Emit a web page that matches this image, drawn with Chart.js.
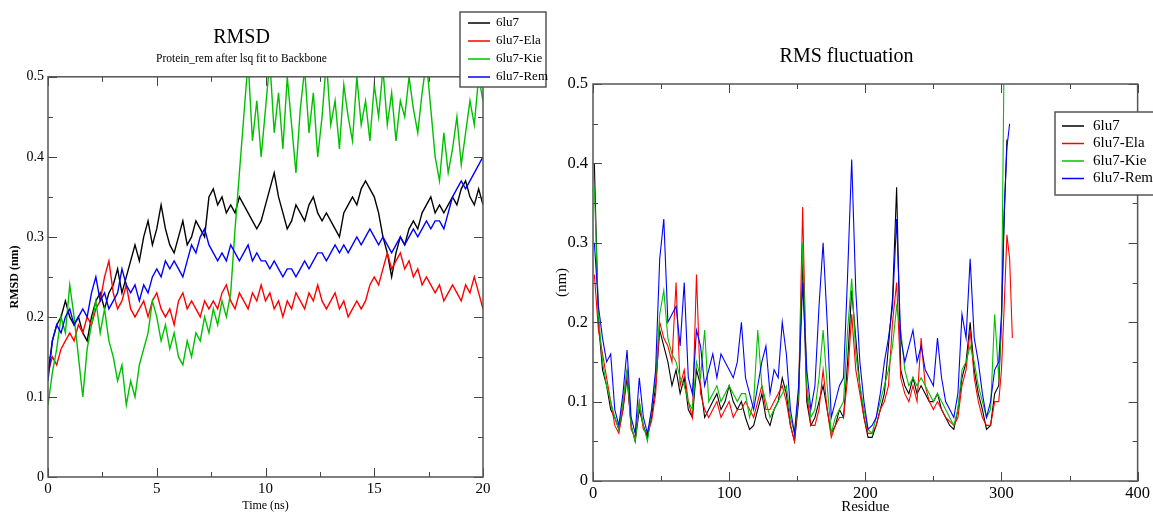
<!DOCTYPE html>
<html>
<head>
<meta charset="utf-8">
<script src="https://cdn.jsdelivr.net/npm/chart.js@4.4.1/dist/chart.umd.min.js"></script>
<style>
  html, body { margin: 0; padding: 0; background: #fff; }
  #wrap { position: relative; width: 1153px; height: 515px; overflow: hidden; }
  #rmsd { position: absolute; left: 0; top: 0; }
  #rmsf { position: absolute; left: 555px; top: 0; }
</style>
</head>
<body>
<div id="wrap">
  <canvas id="rmsd" width="555" height="515"></canvas>
  <canvas id="rmsf" width="598" height="515"></canvas>
</div>
<script>
//--------------------------------------------------DATA--------------------------------------------------
const seriesNames = ["6lu7", "6lu7-Ela", "6lu7-Kie", "6lu7-Rem"];
const seriesColors = ["#000000", "#ff0000", "#00c000", "#0000ff"];

// RMSD (nm), one value every 0.2 ns from 0 to 20 ns
const rmsdBlack = [
  0.13,0.17,0.19,0.20,0.22,0.20,0.19,0.20,0.18,0.17,
  0.20,0.22,0.23,0.21,0.23,0.24,0.26,0.23,0.25,0.27,
  0.29,0.27,0.30,0.32,0.29,0.31,0.34,0.31,0.29,0.28,
  0.30,0.32,0.29,0.30,0.32,0.31,0.30,0.35,0.36,0.34,
  0.35,0.33,0.34,0.33,0.35,0.34,0.33,0.32,0.31,0.32,
  0.34,0.36,0.38,0.35,0.33,0.31,0.32,0.34,0.33,0.32,
  0.34,0.35,0.33,0.32,0.33,0.32,0.31,0.30,0.33,0.34,
  0.35,0.34,0.36,0.37,0.36,0.35,0.33,0.30,0.28,0.25,
  0.28,0.30,0.29,0.31,0.32,0.31,0.33,0.34,0.35,0.33,
  0.34,0.33,0.34,0.35,0.34,0.36,0.37,0.35,0.34,0.36,
  0.34];
const rmsdEla = [
  0.13,0.15,0.14,0.16,0.17,0.18,0.17,0.19,0.18,0.20,
  0.19,0.21,0.22,0.25,0.27,0.23,0.21,0.22,0.24,0.21,
  0.20,0.21,0.22,0.20,0.22,0.23,0.21,0.20,0.21,0.19,
  0.22,0.23,0.21,0.22,0.21,0.20,0.22,0.21,0.22,0.21,
  0.23,0.24,0.22,0.21,0.23,0.22,0.21,0.23,0.22,0.24,
  0.22,0.23,0.21,0.22,0.20,0.22,0.21,0.23,0.22,0.21,
  0.23,0.22,0.24,0.22,0.21,0.22,0.23,0.21,0.22,0.20,
  0.21,0.22,0.21,0.22,0.24,0.25,0.24,0.26,0.28,0.26,
  0.27,0.28,0.26,0.27,0.25,0.26,0.24,0.25,0.24,0.23,
  0.24,0.22,0.23,0.24,0.23,0.22,0.24,0.23,0.25,0.23,
  0.21];
const rmsdKie = [
  0.09,0.13,0.16,0.20,0.18,0.24,0.20,0.15,0.10,0.16,
  0.19,0.22,0.18,0.21,0.17,0.15,0.12,0.14,0.09,0.12,
  0.10,0.14,0.16,0.18,0.22,0.20,0.17,0.19,0.16,0.18,
  0.15,0.14,0.17,0.15,0.18,0.17,0.20,0.18,0.21,0.19,
  0.22,0.20,0.23,0.31,0.38,0.45,0.52,0.42,0.47,0.40,
  0.46,0.52,0.43,0.48,0.41,0.50,0.44,0.38,0.46,0.51,
  0.43,0.48,0.40,0.45,0.52,0.44,0.47,0.41,0.49,0.45,
  0.42,0.50,0.44,0.47,0.42,0.49,0.45,0.51,0.44,0.48,
  0.42,0.47,0.45,0.50,0.46,0.43,0.48,0.52,0.46,0.40,
  0.37,0.43,0.38,0.41,0.45,0.39,0.43,0.47,0.44,0.50,
  0.47];
const rmsdRem = [
  0.12,0.17,0.19,0.18,0.20,0.21,0.19,0.20,0.21,0.20,
  0.23,0.25,0.22,0.23,0.21,0.22,0.23,0.26,0.24,0.23,
  0.24,0.22,0.24,0.23,0.25,0.26,0.25,0.27,0.26,0.27,
  0.26,0.25,0.27,0.29,0.28,0.30,0.31,0.29,0.28,0.27,
  0.28,0.27,0.29,0.28,0.27,0.28,0.29,0.27,0.28,0.27,
  0.27,0.26,0.27,0.26,0.25,0.26,0.26,0.25,0.26,0.27,
  0.26,0.27,0.28,0.28,0.27,0.28,0.29,0.28,0.29,0.28,
  0.29,0.30,0.29,0.30,0.31,0.30,0.29,0.30,0.29,0.28,
  0.29,0.30,0.29,0.30,0.31,0.30,0.31,0.32,0.31,0.32,
  0.32,0.31,0.33,0.35,0.36,0.37,0.36,0.37,0.38,0.39,
  0.40];
// sampling grid of the trajectory (ns)
const rmsdTimes = rmsdBlack.map((_, i) => +(i * 0.2).toFixed(1));

// RMS fluctuation (nm) per residue
const residues = [
  1,4,7,10,13,16,19,22,25,28,
  31,34,37,40,43,46,49,52,55,58,
  61,64,67,70,73,76,79,82,85,88,
  91,94,97,100,103,106,109,112,115,118,
  121,124,127,130,133,136,139,142,145,148,
  151,154,157,160,163,166,169,172,175,178,
  181,184,187,190,193,196,199,202,205,208,
  211,214,217,220,223,226,229,232,235,238,
  241,244,247,250,253,256,259,262,265,268,
  271,274,277,280,283,286,289,292,295,298,
  300,302,304,306,308];
const rmsfBlack = [
  0.40,0.20,0.14,0.12,0.09,0.08,0.065,0.09,0.13,0.07,
  0.05,0.09,0.07,0.055,0.08,0.12,0.19,0.17,0.15,0.12,
  0.14,0.11,0.13,0.09,0.08,0.14,0.12,0.08,0.09,0.10,
  0.11,0.09,0.10,0.12,0.10,0.09,0.10,0.08,0.065,0.07,
  0.09,0.11,0.08,0.07,0.09,0.10,0.13,0.11,0.07,0.05,
  0.10,0.28,0.10,0.07,0.08,0.10,0.12,0.09,0.06,0.07,
  0.09,0.08,0.15,0.24,0.18,0.12,0.08,0.055,0.055,0.07,
  0.09,0.11,0.17,0.23,0.37,0.14,0.12,0.11,0.13,0.11,
  0.12,0.11,0.10,0.10,0.11,0.09,0.08,0.07,0.065,0.09,
  0.13,0.15,0.20,0.14,0.11,0.09,0.065,0.07,0.11,0.12,
  0.20,0.33,0.43,null,null];
const rmsfEla = [
  0.26,0.19,0.16,0.13,0.10,0.07,0.06,0.09,0.14,0.065,
  0.055,0.10,0.065,0.06,0.075,0.11,0.20,0.18,0.17,0.15,
  0.25,0.12,0.14,0.10,0.08,0.26,0.11,0.09,0.08,0.09,
  0.10,0.08,0.09,0.10,0.08,0.09,0.09,0.10,0.09,0.08,
  0.10,0.12,0.09,0.09,0.10,0.11,0.12,0.10,0.07,0.05,
  0.11,0.345,0.11,0.07,0.07,0.09,0.14,0.09,0.055,0.07,
  0.08,0.08,0.13,0.21,0.14,0.11,0.08,0.06,0.06,0.07,
  0.09,0.10,0.12,0.20,0.25,0.13,0.11,0.10,0.12,0.10,
  0.18,0.12,0.10,0.09,0.10,0.09,0.08,0.075,0.07,0.08,
  0.12,0.14,0.19,0.13,0.10,0.08,0.07,0.07,0.10,0.10,
  0.14,0.22,0.31,0.28,0.18];
const rmsfKie = [
  0.37,0.21,0.15,0.12,0.10,0.08,0.065,0.10,0.14,0.07,
  0.05,0.10,0.07,0.05,0.09,0.13,0.21,0.24,0.18,0.16,
  0.15,0.13,0.12,0.10,0.09,0.15,0.13,0.19,0.10,0.11,
  0.12,0.10,0.11,0.12,0.11,0.10,0.11,0.11,0.08,0.10,
  0.19,0.12,0.10,0.08,0.09,0.10,0.11,0.12,0.08,0.06,
  0.11,0.30,0.12,0.08,0.09,0.13,0.19,0.12,0.06,0.08,
  0.09,0.10,0.19,0.255,0.16,0.12,0.09,0.065,0.06,0.08,
  0.10,0.12,0.14,0.17,0.22,0.19,0.14,0.12,0.13,0.12,
  0.13,0.12,0.11,0.10,0.11,0.10,0.09,0.08,0.07,0.09,
  0.14,0.15,0.17,0.15,0.12,0.10,0.08,0.09,0.21,0.13,
  0.20,0.55,null,null,null];
const rmsfRem = [
  0.30,0.22,0.18,0.15,0.16,0.09,0.07,0.11,0.165,0.08,
  0.06,0.13,0.08,0.06,0.09,0.14,0.28,0.33,0.20,0.21,
  0.22,0.17,0.25,0.13,0.11,0.19,0.17,0.12,0.14,0.16,
  0.13,0.16,0.15,0.14,0.13,0.15,0.20,0.13,0.11,0.09,
  0.12,0.15,0.17,0.11,0.14,0.13,0.20,0.16,0.09,0.06,
  0.12,0.25,0.14,0.09,0.12,0.22,0.30,0.20,0.08,0.10,
  0.12,0.13,0.26,0.405,0.24,0.15,0.10,0.065,0.07,0.08,
  0.11,0.15,0.18,0.22,0.33,0.18,0.15,0.17,0.19,0.15,
  0.17,0.14,0.13,0.12,0.18,0.13,0.10,0.09,0.08,0.11,
  0.21,0.18,0.28,0.18,0.15,0.11,0.08,0.10,0.14,0.15,
  0.21,0.34,0.42,0.45,null];

//--------------------------------------------------PLUGINS--------------------------------------------------
const SERIF = "'Liberation Serif', 'DejaVu Serif', serif";

// Grace-style frame with inward major/minor ticks on all four sides
const frameTicks = {
  id: 'frameTicks',
  afterDatasetsDraw(chart, args, opts) {
    const { ctx, chartArea: a, scales: { x, y } } = chart;
    ctx.save();
    ctx.strokeStyle = '#444';
    ctx.lineWidth = 1;
    ctx.beginPath();
    for (let k = 0; k <= Math.round((x.max - x.min) / (opts.xStep / 2)); k++) {
      const v = x.min + k * opts.xStep / 2;
      const px = Math.round(x.getPixelForValue(v)) + 0.5;
      const len = k % 2 === 0 ? 9 : 5;
      ctx.moveTo(px, a.bottom); ctx.lineTo(px, a.bottom - len);
      ctx.moveTo(px, a.top); ctx.lineTo(px, a.top + len);
    }
    for (let k = 0; k <= Math.round((y.max - y.min) / (opts.yStep / 2)); k++) {
      const v = y.min + k * opts.yStep / 2;
      const py = Math.round(y.getPixelForValue(v)) + 0.5;
      const len = k % 2 === 0 ? 9 : 5;
      ctx.moveTo(a.left, py); ctx.lineTo(a.left + len, py);
      ctx.moveTo(a.right, py); ctx.lineTo(a.right - len, py);
    }
    ctx.stroke();
    ctx.lineWidth = 1.5;
    ctx.strokeStyle = '#555';
    ctx.strokeRect(a.left, a.top, a.right - a.left, a.bottom - a.top);
    ctx.restore();
  }
};

// Boxed legend like the Grace one
const boxLegend = {
  id: 'boxLegend',
  afterDraw(chart, args, o) {
    const { ctx } = chart;
    ctx.save();
    ctx.fillStyle = '#fff';
    ctx.fillRect(o.x, o.y, o.w, o.h);
    ctx.strokeStyle = '#555';
    ctx.lineWidth = 1.5;
    ctx.strokeRect(o.x, o.y, o.w, o.h);
    ctx.font = o.size + 'px ' + SERIF;
    ctx.textBaseline = 'middle';
    seriesNames.forEach((name, i) => {
      const yy = o.y + o.first + i * o.gap;
      ctx.strokeStyle = seriesColors[i];
      ctx.lineWidth = 1.5;
      ctx.beginPath();
      ctx.moveTo(o.x + o.lineFrom, yy);
      ctx.lineTo(o.x + o.lineTo, yy);
      ctx.stroke();
      ctx.fillStyle = '#000';
      ctx.fillText(name, o.x + o.textX, yy);
    });
    ctx.restore();
  }
};

function makeSets(xs, lists, width) {
  return lists.map((vals, i) => ({
    label: seriesNames[i],
    data: xs.map((v, j) => ({ x: v, y: vals[j] })),
    borderColor: seriesColors[i],
    borderWidth: width,
    pointRadius: 0,
    tension: 0,
    spanGaps: false,
    order: 4 - i
  }));
}

const noGrid = { display: false, drawTicks: false };

//--------------------------------------------------RMSD--------------------------------------------------
new Chart("rmsd", {
  type: "line",
  data: { datasets: makeSets(rmsdTimes, [rmsdBlack, rmsdEla, rmsdKie, rmsdRem], 1.4) },
  options: {
    responsive: false,
    animation: false,
    events: [],
    layout: { padding: { left: 0, right: 72, top: 26, bottom: 0 } },
    scales: {
      x: {
        type: "linear", min: 0, max: 20,
        afterFit(s) { s.height = 38; },
        grid: noGrid,
        border: { display: false },
        ticks: { stepSize: 5, padding: 3, color: "#000", font: { family: SERIF, size: 15 } },
        title: { display: true, text: "Time (ns)", color: "#000", padding: 2, font: { family: SERIF, size: 12 } }
      },
      y: {
        min: 0, max: 0.5,
        afterFit(s) { s.width = 48; },
        grid: noGrid,
        border: { display: false },
        ticks: { stepSize: 0.1, padding: 4, color: "#000", font: { family: SERIF, size: 14 } },
        title: { display: true, text: "RMSD (nm)", color: "#000", padding: 8, font: { family: SERIF, size: 12, weight: "bold" } }
      }
    },
    plugins: {
      legend: { display: false },
      tooltip: { enabled: false },
      title: { display: true, text: "RMSD", color: "#000", padding: { top: 0, bottom: 0 }, font: { family: SERIF, size: 20, weight: "normal" } },
      subtitle: { display: true, text: "Protein_rem after lsq fit to Backbone", color: "#000", padding: { top: 2, bottom: 11 }, font: { family: SERIF, size: 11.5 } },
      frameTicks: { xStep: 5, yStep: 0.1 },
      boxLegend: { x: 460, y: 12, w: 86, h: 75, first: 11, gap: 18, lineFrom: 8, lineTo: 30, textX: 36, size: 13 }
    }
  },
  plugins: [frameTicks, boxLegend]
});

//--------------------------------------------------RMS FLUCTUATION--------------------------------------------------
new Chart("rmsf", {
  type: "line",
  data: { datasets: makeSets(residues, [rmsfBlack, rmsfEla, rmsfKie, rmsfRem], 1.1) },
  options: {
    responsive: false,
    animation: false,
    events: [],
    layout: { padding: { left: 0, right: 15, top: 45, bottom: 0 } },
    scales: {
      x: {
        type: "linear", min: 0, max: 400,
        afterFit(s) { s.height = 34; },
        grid: noGrid,
        border: { display: false },
        ticks: { stepSize: 100, padding: 3, color: "#000", font: { family: SERIF, size: 16.5 } },
        title: { display: true, text: "Residue", color: "#000", padding: 0, font: { family: SERIF, size: 15, lineHeight: 1 } }
      },
      y: {
        min: 0, max: 0.5,
        afterFit(s) { s.width = 38; },
        grid: noGrid,
        border: { display: false },
        ticks: { stepSize: 0.1, padding: 5, color: "#000", font: { family: SERIF, size: 16.5 } },
        title: { display: true, text: "(nm)", color: "#000", padding: 0, font: { family: SERIF, size: 15, lineHeight: 1 } }
      }
    },
    plugins: {
      legend: { display: false },
      tooltip: { enabled: false },
      title: { display: true, text: "RMS fluctuation", color: "#000", padding: { top: 0, bottom: 15 }, font: { family: SERIF, size: 20, weight: "normal" } },
      frameTicks: { xStep: 100, yStep: 0.1 },
      boxLegend: { x: 500, y: 112, w: 110, h: 83, first: 14, gap: 17.5, lineFrom: 7, lineTo: 29, textX: 38, size: 15 }
    }
  },
  plugins: [frameTicks, boxLegend]
});
</script>
</body>
</html>
